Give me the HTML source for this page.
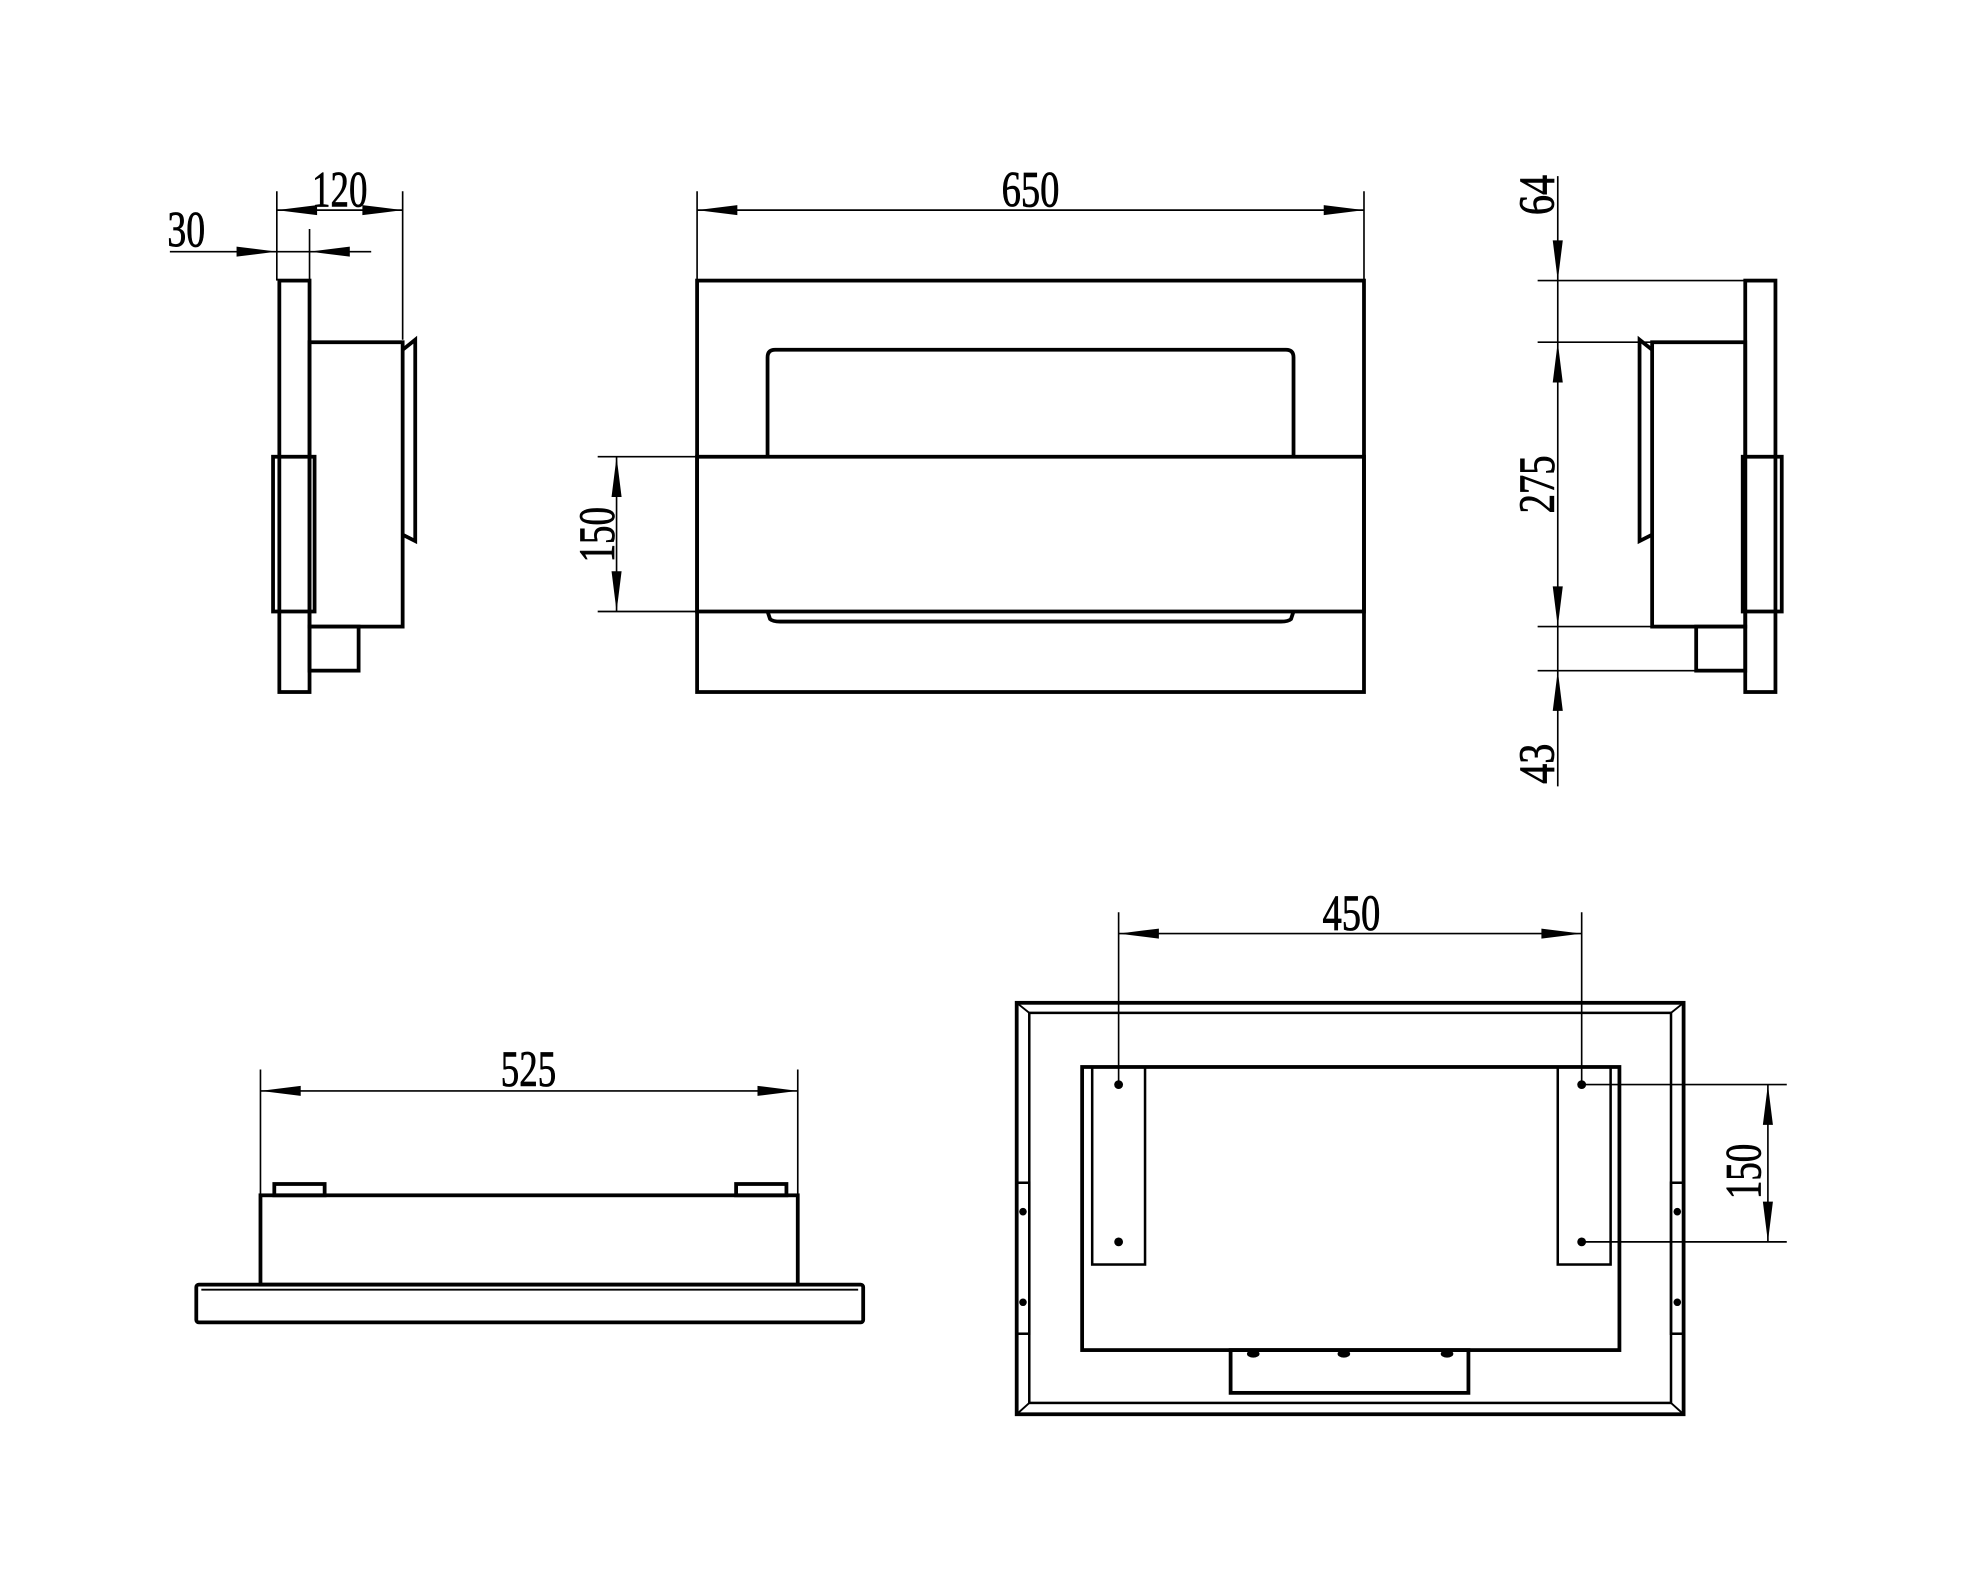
<!DOCTYPE html>
<html><head><meta charset="utf-8"><style>
html,body{margin:0;padding:0;background:#fff}
svg{display:block}
text{font-family:"Liberation Serif",serif;font-size:40px;fill:#000;stroke:#000;stroke-width:0.6}
</style></head><body>
<svg width="1973" height="1586" viewBox="0 0 1568 1260.5" preserveAspectRatio="none" xmlns="http://www.w3.org/2000/svg">
<g fill="none" stroke="#000" stroke-width="3">
<rect x="222" y="223" width="24" height="327"/>
<rect x="217" y="363" width="33" height="123"/>
<rect x="246" y="272" width="74" height="226"/>
<path d="M320 278 L330 270 L330 430 L320 425"/>
<rect x="246" y="498" width="39" height="35"/>
<rect x="554" y="223" width="530" height="327"/>
<path d="M610 363 L610 284 Q610 278 616 278 L1022 278 Q1028 278 1028 284 L1028 363"/>
<rect x="554" y="363" width="530" height="123"/>
<path d="M610 486 L612 492 Q614 494 620 494 L1018 494 Q1024 494 1026 492 L1028 486"/>
<rect x="1387" y="223" width="24" height="327"/>
<rect x="1385" y="363" width="31" height="123"/>
<rect x="1313" y="272" width="74" height="226"/>
<path d="M1313 278 L1303 270 L1303 430 L1313 425"/>
<rect x="1348" y="498" width="39" height="35"/>
<rect x="156" y="1021" width="530" height="30" rx="2"/>
<line x1="160" y1="1025" x2="682" y2="1025" stroke-width="1.5"/>
<rect x="207" y="950" width="427" height="71"/>
<rect x="218" y="941" width="40" height="9"/>
<rect x="585" y="941" width="40" height="9"/>
<rect x="808" y="797" width="530" height="327"/>
<rect x="818" y="805" width="510" height="310" stroke-width="2"/>
<path d="M808 797 L818 805 M1338 797 L1328 805 M808 1124 L818 1115 M1338 1124 L1328 1115" stroke-width="1.5"/>
<rect x="860" y="848" width="427" height="225"/>
<rect x="868" y="848" width="42" height="157" stroke-width="2"/>
<rect x="1238" y="848" width="42" height="157" stroke-width="2"/>
<rect x="978" y="1073" width="189" height="34"/>
<rect x="808" y="940" width="10" height="120" stroke-width="2"/>
<rect x="1328" y="940" width="10" height="120" stroke-width="2"/>
</g>
<g fill="#000">
<circle cx="889" cy="862" r="3.5"/><circle cx="889" cy="987" r="3.5"/>
<circle cx="1257" cy="862" r="3.5"/><circle cx="1257" cy="987" r="3.5"/>
<circle cx="813" cy="963" r="3"/><circle cx="813" cy="1035" r="3"/>
<circle cx="1333" cy="963" r="3"/><circle cx="1333" cy="1035" r="3"/>
<ellipse cx="996" cy="1076" rx="5" ry="3"/><ellipse cx="1068" cy="1076" rx="5" ry="3"/><ellipse cx="1150" cy="1076" rx="5" ry="3"/>
</g>
<g stroke="#000" stroke-width="1.3" fill="none">
<line x1="220" y1="152" x2="220" y2="223"/><line x1="320" y1="152" x2="320" y2="270"/>
<line x1="220" y1="167" x2="320" y2="167"/>
<line x1="135" y1="200" x2="295" y2="200"/><line x1="246" y1="182" x2="246" y2="223"/>
<line x1="554" y1="152" x2="554" y2="223"/><line x1="1084" y1="152" x2="1084" y2="223"/>
<line x1="554" y1="167" x2="1084" y2="167"/>
<line x1="475" y1="363" x2="554" y2="363"/><line x1="475" y1="486" x2="554" y2="486"/>
<line x1="490" y1="363" x2="490" y2="486"/>
<line x1="1238" y1="140" x2="1238" y2="625"/>
<line x1="1222" y1="223" x2="1387" y2="223"/><line x1="1222" y1="272" x2="1313" y2="272"/>
<line x1="1222" y1="498" x2="1313" y2="498"/><line x1="1222" y1="533" x2="1348" y2="533"/>
<line x1="207" y1="850" x2="207" y2="950"/><line x1="634" y1="850" x2="634" y2="950"/>
<line x1="207" y1="867" x2="634" y2="867"/>
<line x1="889" y1="725" x2="889" y2="862"/><line x1="1257" y1="725" x2="1257" y2="862"/>
<line x1="889" y1="742" x2="1257" y2="742"/>
<line x1="1257" y1="862" x2="1420" y2="862"/><line x1="1257" y1="987" x2="1420" y2="987"/>
<line x1="1405" y1="862" x2="1405" y2="987"/>
</g>
<g fill="#000">
<polygon points="220,167 252,163 252,171"/><polygon points="320,167 288,163 288,171"/>
<polygon points="220,200 188,196 188,204"/><polygon points="246,200 278,196 278,204"/>
<polygon points="554,167 586,163 586,171"/><polygon points="1084,167 1052,163 1052,171"/>
<polygon points="490,363 486,395 494,395"/><polygon points="490,486 486,454 494,454"/>
<polygon points="1238,223 1234,191 1242,191"/><polygon points="1238,272 1234,304 1242,304"/>
<polygon points="1238,498 1234,466 1242,466"/><polygon points="1238,533 1234,565 1242,565"/>
<polygon points="207,867 239,863 239,871"/><polygon points="634,867 602,863 602,871"/>
<polygon points="889,742 921,738 921,746"/><polygon points="1257,742 1225,738 1225,746"/>
<polygon points="1405,862 1401,894 1409,894"/><polygon points="1405,987 1401,955 1409,955"/>
</g>
<g>
<text x="248" y="164" textLength="44" lengthAdjust="spacingAndGlyphs">120</text>
<text x="133" y="196" textLength="30" lengthAdjust="spacingAndGlyphs">30</text>
<text x="796" y="164" textLength="46" lengthAdjust="spacingAndGlyphs">650</text>
<text x="398" y="863" textLength="44" lengthAdjust="spacingAndGlyphs">525</text>
<text x="1051" y="739" textLength="46" lengthAdjust="spacingAndGlyphs">450</text>
<text transform="translate(488,447) rotate(-90)" textLength="44" lengthAdjust="spacingAndGlyphs">150</text>
<text transform="translate(1399,953) rotate(-90)" textLength="44" lengthAdjust="spacingAndGlyphs">150</text>
<text transform="translate(1235,171) rotate(-90)" textLength="32" lengthAdjust="spacingAndGlyphs">64</text>
<text transform="translate(1235,408) rotate(-90)" textLength="46" lengthAdjust="spacingAndGlyphs">275</text>
<text transform="translate(1235,623) rotate(-90)" textLength="32" lengthAdjust="spacingAndGlyphs">43</text>
</g>
</svg>
</body></html>
